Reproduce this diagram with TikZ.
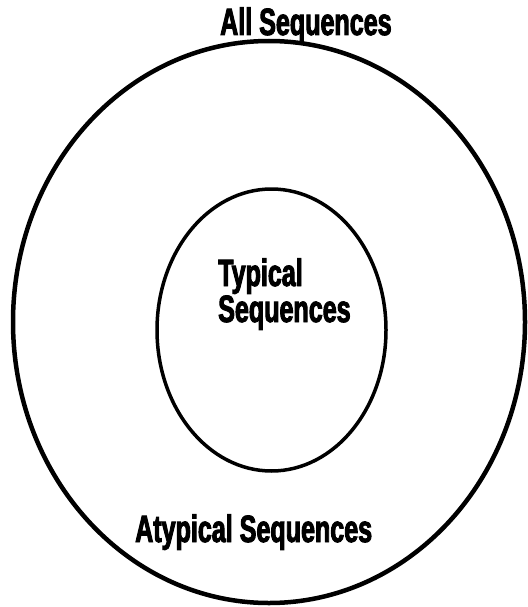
\documentclass[tikz,border=0pt]{standalone}
\usepackage{fontspec}
\newfontfamily\labelfont[FakeStretch=0.66, FakeBold=2.5]{Liberation Sans Bold}
\usetikzlibrary{shapes.geometric}

\begin{document}
\begin{tikzpicture}[
    x=1pt, y=1pt,
    setring/.style={
        draw, % plain black outline
        ellipse,
        inner sep=0pt
    },
    setlabel/.style={
        anchor=base west, % place by the start of the baseline
        inner sep=0pt,
        align=left,
        font=\labelfont\fontsize{38}{36}\selectfont
    }
]
\useasboundingbox (0,0) rectangle (527,-607);

\node[setring, line width=4.5pt, minimum width=512pt, minimum height=562pt] (outerset) at (269,-322) {};
\node[setring, line width=3.5pt, minimum width=229pt, minimum height=282pt] (innerset) at (271.5,-330) {};

\node[setlabel] (all) at (220,-35) {All Sequences};
\node[setlabel] (typical) at (218,-322) {Typical\\Sequences};
\node[setlabel] (atypical) at (135,-542) {Atypical Sequences};
\end{tikzpicture}
\end{document}
